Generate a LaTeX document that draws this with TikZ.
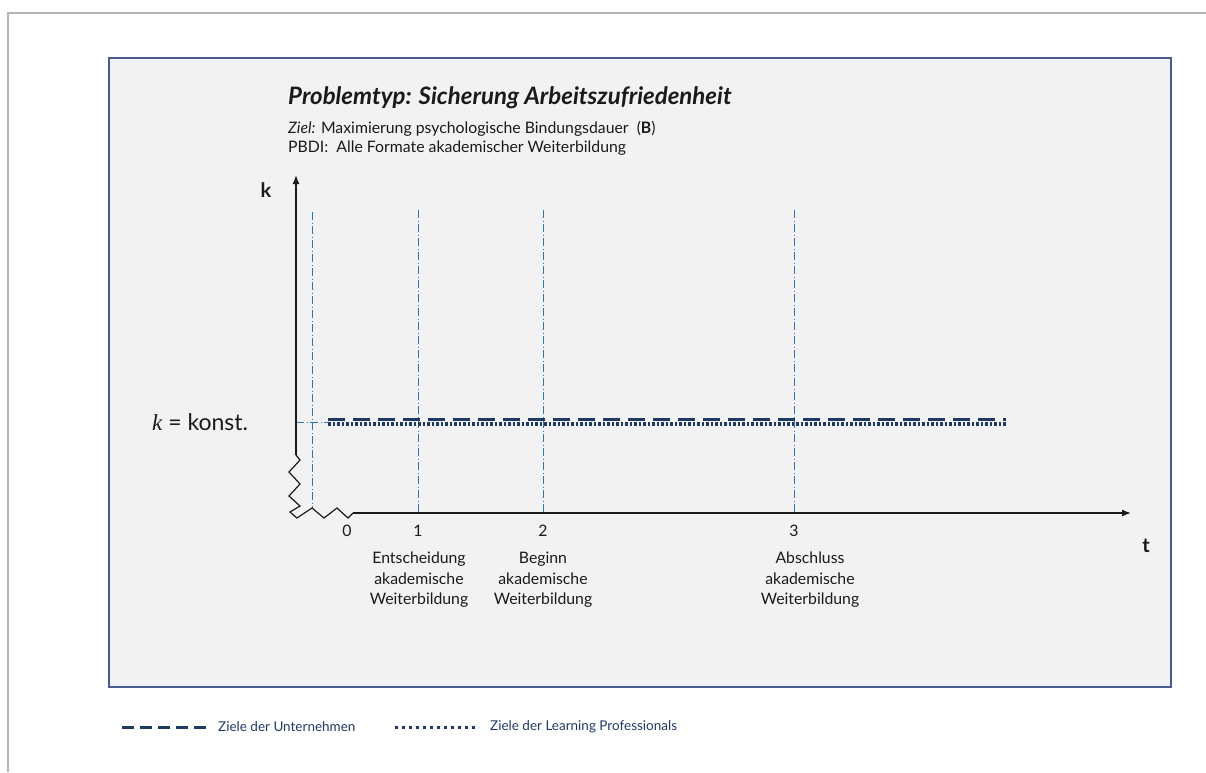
\documentclass[tikz,border=0pt]{standalone}
\usepackage{fontspec}
\usetikzlibrary{arrows.meta}
\setmainfont{Lato}
\newfontfamily\mathk{Liberation Serif}
\definecolor{navy}{HTML}{1F3864}
\definecolor{guideblue}{HTML}{2E75B6}
\definecolor{panelfill}{HTML}{F2F2F2}
\definecolor{paneledge}{HTML}{4A5A8C}
\definecolor{framegray}{HTML}{B4B4B4}
\definecolor{ink}{HTML}{1A1A1A}
\begin{document}
\begin{tikzpicture}[x=1pt,y=-1pt,
  axisline/.style={draw=ink,line width=1.4pt},
  guide/.style={draw=guideblue,line width=0.9pt,dash pattern=on 8pt off 2.5pt on 1pt off 2.5pt},
  firmline/.style={draw=navy,line width=3pt,dash pattern=on 17pt off 8pt},
  lpline/.style={draw=navy,line width=3.2pt,dash pattern=on 2.6pt off 1.9pt},
  txt/.style={inner sep=0pt,text=ink,font=\fontsize{15.8}{19}\selectfont},
  tick/.style={txt,anchor=base},
  caption/.style={txt,align=center,font=\fontsize{15.8}{20.5}\selectfont,anchor=north},
  legendtxt/.style={inner sep=0pt,text=navy,font=\fontsize{13.5}{16}\selectfont,anchor=west}]
\useasboundingbox (0,0) rectangle (1206,772);
% page frame (top and left edges)
\draw[framegray,line width=2pt] (8,772) -- (8,13) -- (1206,13);
% panel
\draw[fill=panelfill,draw=paneledge,line width=1.8pt] (109,58) rectangle (1171,687);

% headings
\node[txt,anchor=base west,font=\fontsize{24}{28}\bfseries\itshape\selectfont] (title) at (288,104) {Problemtyp: Sicherung Arbeitszufriedenheit};
\node[txt,anchor=base west] (goal) at (288,133) {\textit{Ziel:} Maximierung psychologische Bindungsdauer~~(\textbf{B})};
\node[txt,anchor=base west] (pbdi) at (288,152) {PBDI:~~Alle Formate akademischer Weiterbildung};

% axis points
\coordinate (ytop) at (296,175);
\coordinate (ybreak) at (296,455);
\coordinate (xstart) at (353,513);
\coordinate (xend) at (1131,513);

% guide lines at the time marks
\coordinate (g0top) at (312,212); \coordinate (g0bot) at (312,508);
\coordinate (g1top) at (418,210); \coordinate (g1bot) at (418,513);
\coordinate (g2top) at (543,210); \coordinate (g2bot) at (543,513);
\coordinate (g3top) at (794,210); \coordinate (g3bot) at (794,513);
\draw[guide] (g0top) -- (g0bot);
\draw[guide] (g1top) -- (g1bot);
\draw[guide] (g2top) -- (g2bot);
\draw[guide] (g3top) -- (g3bot);

% level mark k = konst.
\coordinate (kmark) at (296,422);
\coordinate (kend) at (328,422);
\draw[guide] (kmark) -- (kend);

% goal lines
\coordinate (firmA) at (328,419); \coordinate (firmB) at (1006,419);
\coordinate (lpA) at (328,424); \coordinate (lpB) at (1006,424);
\draw[firmline] (firmA) -- (firmB);
\draw[lpline] (lpA) -- (lpB);

% axes with breaks
\draw[axisline,-{Latex[length=9pt,width=7pt]}] (ybreak) -- (ytop);
\draw[axisline,line width=1.2pt,line join=miter] (ybreak) -- (300,460) -- (289,472) -- (300,484) -- (289,496) -- (300,506) -- (290,512) -- (297,518)
  -- (312,508) -- (324,518) -- (337,508) -- (348,518) -- (xstart);
\draw[axisline,-{Latex[length=9pt,width=7pt]}] (xstart) -- (xend);

% axis labels
\node[inner sep=0pt,text=ink,font=\fontsize{20}{24}\bfseries\selectfont] (klabel) at (266,190) {k};
\node[inner sep=0pt,text=ink,font=\fontsize{20}{24}\bfseries\selectfont] (tlabel) at (1146,546) {t};
\node[txt,font=\fontsize{23}{26}\selectfont,anchor=base west] (konst) at (152,430) {{\mathk\itshape k} = konst.};

% time marks
\node[tick] (t0) at (347,536) {0};
\node[tick] (t1) at (418,536) {1};
\node[tick] (t2) at (543,536) {2};
\node[tick] (t3) at (794,536) {3};

\node[caption] (c1) at (419,552) {Entscheidung\\akademische\\Weiterbildung};
\node[caption] (c2) at (543,552) {Beginn\\akademische\\Weiterbildung};
\node[caption] (c3) at (810,552) {Abschluss\\akademische\\Weiterbildung};

% legend
\coordinate (lgA1) at (122,727); \coordinate (lgA2) at (206,727);
\coordinate (lgB1) at (395,727); \coordinate (lgB2) at (479,727);
\draw[draw=navy,line width=3pt,dash pattern=on 12pt off 6pt] (lgA1) -- (lgA2);
\node[legendtxt] (lgAt) at (218,727) {Ziele der Unternehmen};
\draw[draw=navy,line width=3pt,dash pattern=on 3pt off 4pt] (lgB1) -- (lgB2);
\node[legendtxt] (lgBt) at (490,727) {Ziele der Learning Professionals};
\end{tikzpicture}
\end{document}
